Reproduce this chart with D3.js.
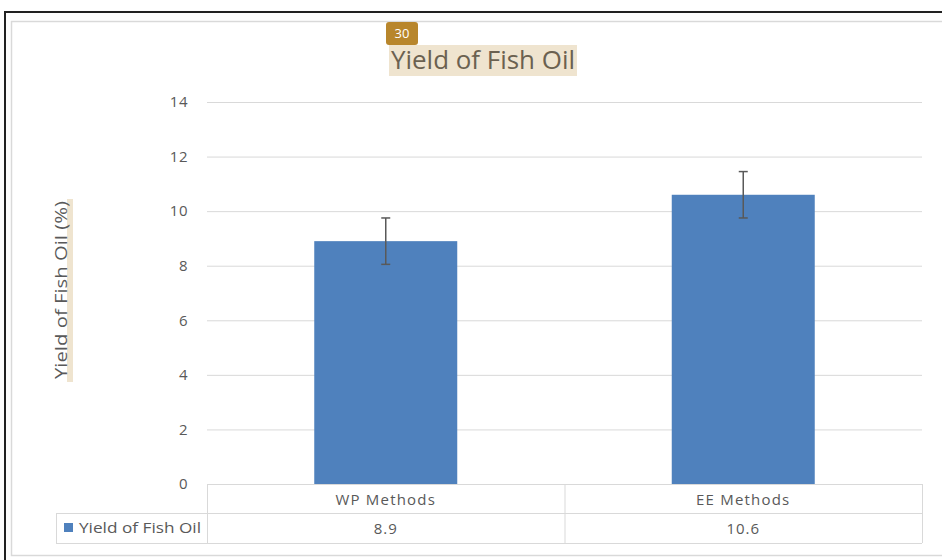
<!DOCTYPE html>
<html><head><meta charset="utf-8">
<script src="https://cdn.jsdelivr.net/npm/d3@7"></script>
<style>body{margin:0;background:#fff;} svg{display:block;font-family:"Open Sans",sans-serif;}</style>
</head><body><svg id="c" width="942" height="560"></svg>
<script>
const categories = ["WP Methods", "EE Methods"];
const values = [8.9, 10.6];
const errors = [0.85, 0.85];
const yTicks = [0, 2, 4, 6, 8, 10, 12, 14];
const seriesName = "Yield of Fish Oil";
const chartTitle = "Yield of Fish Oil";
const yTitle = "Yield of Fish Oil (%)";
const badge = "30";

const svg = d3.select("#c");
// frames
svg.append("path").attr("d","M5,560 L5,12 L942,12").attr("fill","none").attr("stroke","#222").attr("stroke-width",2);
svg.append("rect").attr("x",11.5).attr("y",21.5).attr("width",940).attr("height",534).attr("fill","none").attr("stroke","#d9d9d9").attr("stroke-width",1.5);

const x0 = 207, x1 = 922;
const y = d3.scaleLinear().domain([0,14]).range([484,102]);
const x = d3.scaleBand().domain(categories).range([x0,x1]);
const barW = x.bandwidth()*0.4;

// gridlines
svg.append("g").selectAll("line").data(yTicks).join("line")
  .attr("x1",x0).attr("x2",x1).attr("y1",d=>y(d)+0.5).attr("y2",d=>y(d)+0.5)
  .attr("stroke","#d9d9d9").attr("stroke-width",1);

// tick labels via axis
const ax = svg.append("g").attr("transform",`translate(${x0-19},0)`)
  .call(d3.axisLeft(y).tickValues(yTicks).tickSize(0).tickPadding(0));
ax.select(".domain").remove();
ax.selectAll("text").attr("font-size",15).attr("fill","#595959").attr("font-family","Open Sans").attr("letter-spacing",0.5);

// bars
svg.append("g").selectAll("rect").data(values).join("rect")
  .attr("x",(d,i)=>x(categories[i])+x.bandwidth()/2-barW/2)
  .attr("y",d=>y(d)).attr("width",barW).attr("height",d=>y(0)-y(d))
  .attr("fill","#4f81bd");

// error bars
const eg = svg.append("g").attr("stroke","#595959").attr("stroke-width",1.5);
values.forEach((v,i)=>{
  const cx = x(categories[i])+x.bandwidth()/2;
  eg.append("line").attr("x1",cx).attr("x2",cx).attr("y1",y(v+errors[i])).attr("y2",y(v-errors[i]));
  [v+errors[i], v-errors[i]].forEach(e=>{
    eg.append("line").attr("x1",cx-4.5).attr("x2",cx+4.5).attr("y1",y(e)).attr("y2",y(e));
  });
});

// data table
const tg = svg.append("g").attr("stroke","#d9d9d9").attr("stroke-width",1);
const r0 = 484, r1 = 513, r2 = 543, lx = 56;
tg.append("line").attr("x1",x0).attr("x2",x1).attr("y1",r0+0.5).attr("y2",r0+0.5);
tg.append("line").attr("x1",lx).attr("x2",x1).attr("y1",r1+0.5).attr("y2",r1+0.5);
tg.append("line").attr("x1",lx).attr("x2",x1).attr("y1",r2+0.5).attr("y2",r2+0.5);
tg.append("line").attr("x1",lx+0.5).attr("x2",lx+0.5).attr("y1",r1).attr("y2",r2);
[x0, x0+x.bandwidth(), x1].forEach(xx=>{
  tg.append("line").attr("x1",xx+0.5).attr("x2",xx+0.5).attr("y1",r0).attr("y2",r2);
});
categories.forEach((c,i)=>{
  const cx = x(c)+x.bandwidth()/2;
  svg.append("text").attr("x",cx).attr("y",(r0+r1)/2+6).attr("text-anchor","middle")
    .attr("font-size",15).attr("letter-spacing",1.2).attr("fill","#595959").text(c);
  svg.append("text").attr("x",cx).attr("y",(r1+r2)/2+6).attr("text-anchor","middle")
    .attr("font-size",15).attr("letter-spacing",1).attr("fill","#595959").text(values[i]);
});
svg.append("rect").attr("x",64).attr("y",523).attr("width",9).attr("height",9).attr("fill","#4f81bd");
svg.append("text").attr("x",79).attr("y",533).attr("font-size",14).attr("fill","#595959")
  .attr("textLength",122).attr("lengthAdjust","spacingAndGlyphs").text(seriesName);

// title
svg.append("rect").attr("x",389).attr("y",45).attr("width",188).attr("height",31).attr("fill","#efe4cf");
svg.append("text").attr("x",483).attr("y",69).attr("text-anchor","middle").attr("font-size",25)
  .attr("fill","#6b6150").attr("textLength",184).attr("lengthAdjust","spacingAndGlyphs").text(chartTitle);
svg.append("rect").attr("x",386).attr("y",22).attr("width",32).attr("height",23).attr("rx",3).attr("fill","#b8862c");
svg.append("text").attr("x",402).attr("y",37.5).attr("text-anchor","middle").attr("font-size",13).attr("fill","#fff").text(badge);

// y title
svg.append("rect").attr("x",67).attr("y",199).attr("width",6).attr("height",183).attr("fill","#efe4cf");
svg.append("text").attr("transform","translate(67,290) rotate(-90)").attr("text-anchor","middle")
  .attr("font-size",17).attr("fill","#595959").attr("textLength",178).attr("lengthAdjust","spacingAndGlyphs").text(yTitle);
</script></body></html>
